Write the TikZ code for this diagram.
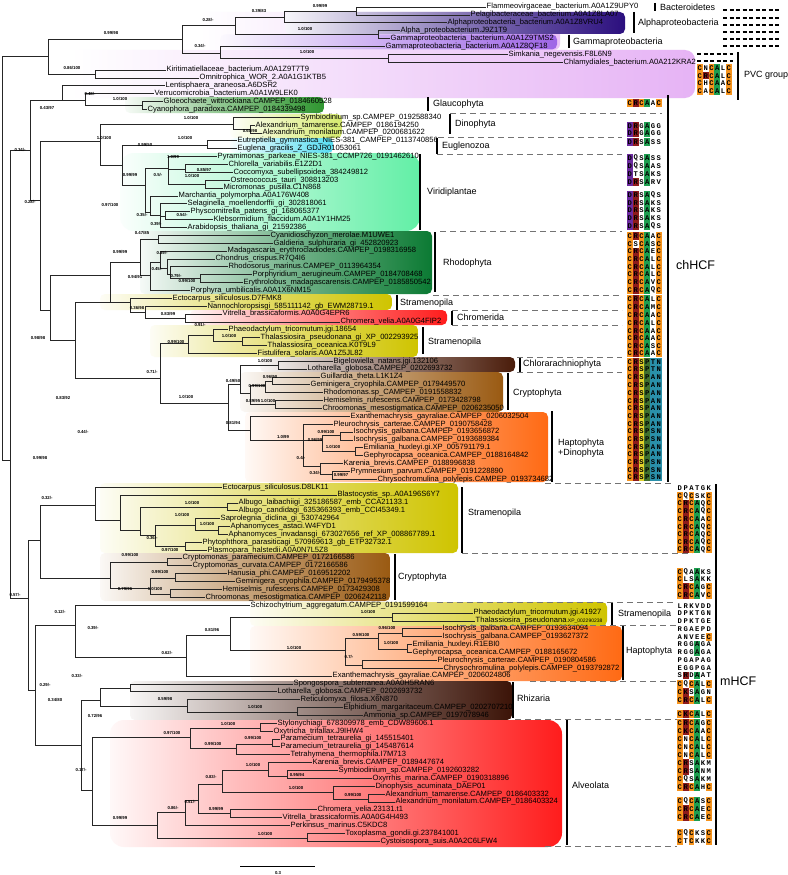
\documentclass[tikz,border=0pt]{standalone}
\usepackage{fontspec}
\setmainfont{Liberation Sans}
\setmonofont{Liberation Mono}
\definecolor{cor}{HTML}{F7941D}
\definecolor{cdr}{HTML}{8E1B1B}
\definecolor{cgr}{HTML}{1E9E50}
\definecolor{cpu}{HTML}{6B2B9E}
\definecolor{cye}{HTML}{E3D32B}
\definecolor{cdg}{HTML}{40702E}
\definecolor{cte}{HTML}{2A90AA}
\definecolor{bpvc}{HTML}{E6B3F5}
\definecolor{balp}{HTML}{2B0F7E}
\definecolor{bgam}{HTML}{9E66E6}
\definecolor{bgla}{HTML}{2F9630}
\definecolor{bdin}{HTML}{D6EA6E}
\definecolor{beug}{HTML}{57DDF2}
\definecolor{bvir}{HTML}{62EFA6}
\definecolor{brho}{HTML}{0B7A33}
\definecolor{bstr}{HTML}{CFC400}
\definecolor{bchr}{HTML}{FF1C1C}
\definecolor{bchl}{HTML}{4A1C0A}
\definecolor{bcry}{HTML}{9A5A12}
\definecolor{bhap}{HTML}{FF6A14}
\definecolor{brhi}{HTML}{3C1408}
\newcount\supc
\newcount\cellc
\tikzset{
 leaf/.style={anchor=west, inner sep=0.5pt, font=\fontsize{7.6}{8}\selectfont},
 br/.style={line width=0.6pt, black!85},
 sup/.style={inner sep=0pt, font=\fontsize{4.3}{5}\selectfont\bfseries},
 clade/.style={anchor=west, inner sep=0pt, font=\fontsize{9}{10}\selectfont},
 bar/.style={line width=1.6pt, black},
 sep/.style={dash pattern=on 6pt off 4pt, line width=0.9pt, black!55},
 tdash/.style={dash pattern=on 4pt off 2.5pt, line width=1.1pt, black},
 cellst/.style={minimum width=5.8pt, minimum height=7.7pt, inner sep=0pt, font=\fontsize{7.2}{7.2}\ttfamily\bfseries},
 box/.style={rounded corners=5pt}
}
\newcommand\lf[4]{\pgfmathsetmacro\yy{7+(#2-1)*7.87}\node[leaf] (#1) at (#3,\yy) {#4};}
\newcommand\ed[2]{\draw[br] (#1) |- (#2);}
\newcommand\supl[3]{\global\advance\supc by 1 \node[sup] (s\the\supc) at (#1,#2) {#3};}
\newcommand\cl[3]{\global\advance\cellc by 1
 \pgfmathsetmacro\cx{\sqx+2.9+5.8*#1}%
 \node[cellst,fill=#2] (c\the\cellc) at (\cx,\sqy) {#3};}
\newcommand\sq[4]{\def\sqmode{#1}\def\sqx{#2}\def\sqy{#3}\sqp#4}
\def\sqp#1#2#3#4#5#6{%
 \if#1C\def\fa{cor}\else\if#1D\def\fa{cpu}\else\def\fa{white}\fi\fi
 \if#2R\def\fb{cdr}\else\if#2K\def\fb{cdr}\else\def\fb{white}\fi\fi
 \if#3C\def\fc{cor}\else\def\fc{white}\fi
 \if#4A\def\fd{cgr}\else\def\fd{white}\fi
 \def\fe{white}%
 \if#6C\def\ff{cor}\else\def\ff{white}\fi
 \ifnum\sqmode=1 \def\fc{cye}\def\fd{cdg}\def\fe{cte}\def\ff{cte}\fi
 \ifnum\sqmode=2 \def\fa{white}\def\fb{white}\def\fc{white}\def\fd{white}\def\ff{white}\fi
 \cl{0}{\fa}{#1}\cl{1}{\fb}{#2}\cl{2}{\fc}{#3}\cl{3}{\fd}{#4}\cl{4}{\fe}{#5}\cl{5}{\ff}{#6}}
\newcommand\bx[5]{\shade[box, left color=#5!4, right color=#5, middle color=#5!55] (#1,#2) rectangle (#3,#4);}
\begin{document}
\catcode`\_=12
\begin{tikzpicture}[x=1pt,y=-1pt]
\useasboundingbox (0,0) rectangle (787,875);
\fill[white] (0,0) rectangle (787,875);
% ---------- backgrounds
\shade[rounded corners=10pt, left color=white, right color=bpvc] (70,50) rectangle (695,98);
\shade[rounded corners=6pt, left color=white, right color=bpvc!80] (200,12) rectangle (560,50);
\bx{285}{12}{625}{34}{balp}
\bx{220}{34.5}{557}{49.5}{bgam}
\bx{125}{97}{324}{113}{bgla}
\bx{230}{114}{342}{138}{bdin}
\bx{230}{138}{333}{153}{beug}
\shade[rounded corners=14pt, left color=bvir!3, right color=bvir, middle color=bvir!50] (120,153) rectangle (420,231);
\bx{140}{231}{432}{294}{brho}
\bx{100}{294}{392}{310}{bstr}
\bx{190}{310}{447}{325}{bchr}
\bx{150}{325}{418}{357}{bstr}
\bx{260}{357}{515}{372}{bchl}
\bx{240}{372}{503}{412}{bcry}
\bx{245}{412}{548}{482}{bhap}
\bx{100}{483}{458}{553}{bstr}
\bx{100}{553}{390}{601}{bcry}
\bx{250}{602}{607}{626}{bstr}
\bx{250}{626}{622}{681}{bhap}
\bx{130}{681}{512}{720}{brhi}
\shade[rounded corners=14pt, left color=bchr!3, right color=bchr, middle color=bchr!50] (110,720) rectangle (562,847);
% ---------- internal nodes
\coordinate (R) at (2,300);
\coordinate (nA) at (48,56);
\coordinate (nB) at (182,39);
\coordinate (n235) at (235,25);
\coordinate (n284) at (284,17);
\coordinate (n356) at (356,11);
\coordinate (n378) at (378,34);
\coordinate (n220) at (220,53);
\coordinate (n388) at (388,58);
\coordinate (nKO) at (95,74);
\coordinate (nE) at (10,460);
\coordinate (nC) at (30,150);
\coordinate (nLV) at (62,100);
\coordinate (n85) at (85,100);
\coordinate (nG) at (142,105);
\coordinate (nD) at (40,200);
\coordinate (nPl) at (100,141);
\coordinate (nDin) at (233,124);
\coordinate (nAlx) at (250,129);
\coordinate (nEV) at (122,165);
\coordinate (nEu) at (207,145);
\coordinate (nVi) at (145,185);
\coordinate (nV1) at (168,168);
\coordinate (nCC) at (185,169);
\coordinate (nOM) at (205,184);
\coordinate (nV2) at (150,212);
\coordinate (nV3) at (160,215);
\coordinate (nV4) at (165,216);
\coordinate (nLow) at (50,310);
\coordinate (nRhp) at (110,275);
\coordinate (nRh) at (140,262);
\coordinate (nCG) at (158,239);
\coordinate (nRh2) at (150,275);
\coordinate (nRh3) at (160,262);
\coordinate (nRh4) at (167,268);
\coordinate (nRh5) at (170,274);
\coordinate (nRh6) at (200,278);
\coordinate (nLow2) at (75,340);
\coordinate (nSt1) at (130,302);
\coordinate (nNC) at (145,312);
\coordinate (nChr) at (185,318);
\coordinate (n160) at (160,378);
\coordinate (nSt2) at (188,343);
\coordinate (nPT) at (213,335);
\coordinate (nTT) at (242,341);
\coordinate (nBig) at (228,403);
\coordinate (nCC2) at (240,384);
\coordinate (nChl) at (278,365);
\coordinate (nCr) at (250,393);
\coordinate (nCr1) at (265,385);
\coordinate (nGG) at (272,381);
\coordinate (nCr2) at (275,404);
\coordinate (nHap) at (250,430);
\coordinate (nH1) at (303,440);
\coordinate (nIE) at (322,440);
\coordinate (nIso) at (340,435);
\coordinate (nEG) at (355,451);
\coordinate (nKP) at (320,466);
\coordinate (nPC) at (332,474);
\coordinate (nM) at (28,598);
\coordinate (nM1) at (40,540);
\coordinate (nS) at (95,505);
\coordinate (nS2) at (120,520);
\coordinate (nS3) at (140,530);
\coordinate (nAlb) at (227,507);
\coordinate (nS4) at (155,535);
\coordinate (nSap) at (195,525);
\coordinate (nAph) at (218,530);
\coordinate (nPP) at (185,546);
\coordinate (nCrM) at (110,578);
\coordinate (nCp) at (167,562);
\coordinate (nCrM2) at (150,588);
\coordinate (nHG) at (175,578);
\coordinate (nHC) at (170,594);
\coordinate (nM2) at (35,690);
\coordinate (nMH) at (75,625);
\coordinate (n186) at (186,657);
\coordinate (n230) at (230,635);
\coordinate (n392) at (392,617);
\coordinate (n345) at (345,650);
\coordinate (n378b) at (378,638);
\coordinate (n402) at (402,633);
\coordinate (n407) at (407,649);
\coordinate (n362) at (362,665);
\coordinate (nRA) at (81,745);
\coordinate (nRhz) at (100,700);
\coordinate (nSL) at (130,688);
\coordinate (nR187) at (187,706);
\coordinate (nEA) at (297,712);
\coordinate (nAlv) at (92,790);
\coordinate (nCil) at (190,737);
\coordinate (n260) at (260,728);
\coordinate (n236) at (236,748);
\coordinate (n272) at (272,744);
\coordinate (nAp) at (157,825);
\coordinate (n185) at (185,812);
\coordinate (n198) at (198,800);
\coordinate (n222) at (222,784);
\coordinate (n268) at (268,770);
\coordinate (n287) at (287,776);
\coordinate (n333) at (333,792);
\coordinate (n368) at (368,799);
\coordinate (n230b) at (230,813);
\coordinate (n307) at (307,838);
% ---------- leaves
\lf{L1}{1}{486}{Flammeovirgaceae_bacterium.A0A1Z9UPY0}
\lf{L2}{2}{470}{Pelagibacteraceae_bacterium.A0A1Z8LA07}
\lf{L3}{3}{447}{Alphaproteobacteria_bacterium.A0A1Z8VRU4}
\lf{L4}{4}{400}{Alpha_proteobacterium.J9Z1T9}
\lf{L5}{5}{390}{Gammaproteobacteria_bacterium.A0A1Z9TMS2}
\lf{L6}{6}{385}{Gammaproteobacteria_bacterium.A0A1Z8QF18}
\lf{L7}{7}{508}{Simkania_negevensis.F8L6N9}
\lf{L8}{8}{563}{Chlamydiales_bacterium.A0A212KRA2}
\lf{L9}{9}{166}{Kiritimatiellaceae_bacterium.A0A1Z9T7T9}
\lf{L10}{10}{199}{Omnitrophica_WOR_2.A0A1G1KTB5}
\lf{L11}{11}{165}{Lentisphaera_araneosa.A6DSR2}
\lf{L12}{12}{154}{Verrucomicrobia_bacterium.A0A1W9LEK0}
\lf{L13}{13}{163}{Gloeochaete_wittrockiana.CAMPEP_0184660528}
\lf{L14}{14}{147}{Cyanophora_paradoxa.CAMPEP_0184339498}
\lf{L15}{15}{300}{Symbiodinium_sp.CAMPEP_0192588340}
\lf{L16}{16}{255}{Alexandrium_tamarense.CAMPEP_0186194250}
\lf{L17}{17}{262}{Alexandrium_monilatum.CAMPEP_0200681622}
\lf{L18}{18}{237}{Eutreptiella_gymnastica_NIES-381_CAMPEP_0113740856}
\lf{L19}{19}{237}{Euglena_gracilis_Z_GDJR01053061}
\lf{L20}{20}{217}{Pyramimonas_parkeae_NIES-381_CCMP726_0191462610}
\lf{L21}{21}{228}{Chlorella_variabilis.E1Z2D1}
\lf{L22}{22}{233}{Coccomyxa_subellipsoidea_384249812}
\lf{L23}{23}{230}{Ostreococcus_tauri_308813203}
\lf{L24}{24}{223}{Micromonas_pusilla.C1N868}
\lf{L25}{25}{178}{Marchantia_polymorpha.A0A176W408}
\lf{L26}{26}{187}{Selaginella_moellendorffii_gi_302818061}
\lf{L27}{27}{190}{Physcomitrella_patens_gi_168065377}
\lf{L28}{28}{213}{Klebsormidium_flaccidum.A0A1Y1HM25}
\lf{L29}{29}{187}{Arabidopsis_thaliana_gi_21592386_}
\lf{L30}{30}{270}{Cyanidioschyzon_merolae.M1UWE1}
\lf{L31}{31}{273}{Galdieria_sulphuraria_gi_452820923}
\lf{L32}{32}{227}{Madagascaria_erythrocladiodes.CAMPEP_0198316958}
\lf{L33}{33}{215}{Chondrus_crispus.R7Q4I6}
\lf{L34}{34}{228}{Rhodosorus_marinus.CAMPEP_0113964354}
\lf{L35}{35}{252}{Porphyridium_aerugineum.CAMPEP_0184708468}
\lf{L36}{36}{243}{Erythrolobus_madagascarensis.CAMPEP_0185850542}
\lf{L37}{37}{190}{Porphyra_umbilicalis.A0A1X6NM15}
\lf{L38}{38}{172}{Ectocarpus_siliculosus.D7FMK8}
\lf{L39}{39}{207}{Nannochloropsisgi_585111142_gb_EWM28719.1}
\lf{L40}{40}{222}{Vitrella_brassicaformis.A0A0G4EPR6}
\lf{L41}{41}{340}{Chromera_velia.A0A0G4FIP2}
\lf{L42}{42}{228}{Phaeodactylum_tricornutum.jgi.18654}
\lf{L43}{43}{260}{Thalassiosira_pseudonana_gi_XP_002293925}
\lf{L44}{44}{267}{Thalassiosira_oceanica.K0T9L9}
\lf{L45}{45}{257}{Fistulifera_solaris.A0A1Z5JL82}
\lf{L46}{46}{333}{Bigelowiella_natans.jgi.132106}
\lf{L47}{47}{307}{Lotharella_globosa.CAMPEP_0202693732}
\lf{L48}{48}{320}{Guillardia_theta.L1K1Z4}
\lf{L49}{49}{310}{Geminigera_cryophila.CAMPEP_0179449570}
\lf{L50}{50}{323}{Rhodomonas.sp_CAMPEP_0191558832}
\lf{L51}{51}{323}{Hemiselmis_rufescens.CAMPEP_0173428798}
\lf{L52}{52}{322}{Chroomonas_mesostigmatica.CAMPEP_0206235050}
\lf{L53}{53}{350}{Exanthemachrysis_gayraliae.CAMPEP_0206032504}
\lf{L54}{54}{333}{Pleurochrysis_carterae.CAMPEP_0190758428}
\lf{L55}{55}{353}{Isochrysis_galbana.CAMPEP_0193656872}
\lf{L56}{56}{353}{Isochrysis_galbana.CAMPEP_0193689384}
\lf{L57}{57}{363}{Emiliania_huxleyi.gi.XP_005791179.1}
\lf{L58}{58}{363}{Gephyrocapsa_oceanica.CAMPEP_0188164842}
\lf{L59}{59}{343}{Karenia_brevis.CAMPEP_0188996838}
\lf{L60}{60}{350}{Prymnesium_parvum.CAMPEP_0191228890}
\lf{L61}{61}{377}{Chrysochromulina_polylepis.CAMPEP_0193734682}
\lf{L62}{62}{222}{Ectocarpus_siliculosus.D8LK11}
\lf{L63}{63}{337}{Blastocystis_sp..A0A196S6Y7}
\lf{L64}{64}{238}{Albugo_laibachiigi_325186587_emb_CCA21133.1}
\lf{L65}{65}{238}{Albugo_candidagi_635366393_emb_CCI45349.1}
\lf{L66}{66}{220}{Saprolegnia_diclina_gi_530742964}
\lf{L67}{67}{230}{Aphanomyces_astaci.W4FYD1}
\lf{L68}{68}{228}{Aphanomyces_invadansgi_673027656_ref_XP_008867789.1}
\lf{L69}{69}{202}{Phytophthora_parasiticagi_570969613_gb_ETP32732.1}
\lf{L70}{70}{207}{Plasmopara_halstedii.A0A0N7L5Z8}
\lf{L71}{71}{182}{Cryptomonas_paramecium.CAMPEP_0172166586}
\lf{L72}{72}{192}{Cryptomonas_curvata.CAMPEP_0172166586}
\lf{L73}{73}{227}{Hanusia_phi.CAMPEP_0169512202}
\lf{L74}{74}{235}{Geminigera_cryophila.CAMPEP_0179495378}
\lf{L75}{75}{222}{Hemiselmis_rufescens.CAMPEP_0173429308}
\lf{L76}{76}{205}{Chroomonas_mesostigmatica.CAMPEP_0206242118}
\lf{L77}{77}{250}{Schizochytrium_aggregatum.CAMPEP_0191599164}
\lf{L78}{78}{473}{Phaeodactylum_tricornutum.jgi.41927}
\lf{L79}{79}{475}{Thalassiosira_pseudonana{\fontsize{5}{6}\selectfont.XP_002290238}}
\lf{L80}{80}{442}{Isochrysis_galbana.CAMPEP_0193634094}
\lf{L81}{81}{442}{Isochrysis_galbana.CAMPEP_0193627372}
\lf{L82}{82}{412}{Emiliania_huxleyi.R1EBI0}
\lf{L83}{83}{412}{Gephyrocapsa_oceanica.CAMPEP_0188165672}
\lf{L84}{84}{437}{Pleurochrysis_carterae.CAMPEP_0190804586}
\lf{L85}{85}{443}{Chrysochromulina_polylepis.CAMPEP_0193792872}
\lf{L86}{86}{332}{Exanthemachrysis_gayraliae.CAMPEP_0206024806}
\lf{L87}{87}{293}{Spongospora_subterranea.A0A0H5RAN6}
\lf{L88}{88}{277}{Lotharella_globosa.CAMPEP_0202693732}
\lf{L89}{89}{300}{Reticulomyxa_filosa.X6N870}
\lf{L90}{90}{343}{Elphidium_margaritaceum.CAMPEP_0202707210}
\lf{L91}{91}{363}{Ammonia_sp.CAMPEP_0197078946}
\lf{L92}{92}{277}{Stylonychiagi_678309978_emb_CDW89606.1}
\lf{L93}{93}{273}{Oxytricha_trifallax.J9IHW4}
\lf{L94}{94}{280}{Paramecium_tetraurelia_gi_145515401}
\lf{L95}{95}{280}{Paramecium_tetraurelia_gi_145487614}
\lf{L96}{96}{290}{Tetrahymena_thermophila.I7M713}
\lf{L97}{97}{312}{Karenia_brevis.CAMPEP_0189447674}
\lf{L98}{98}{338}{Symbiodinium_sp.CAMPEP_0192603282}
\lf{L99}{99}{372}{Oxyrrhis_marina.CAMPEP_0190318896}
\lf{L100}{100}{375}{Dinophysis_acuminata_DAEP01}
\lf{L101}{101}{385}{Alexandrium_tamarense.CAMPEP_0186403332}
\lf{L102}{102}{395}{Alexandrium_monilatum.CAMPEP_0186403324}
\lf{L103}{103}{317}{Chromera_velia.23131.t1}
\lf{L104}{104}{282}{Vitrella_brassicaformis.A0A0G4H493}
\lf{L105}{105}{290}{Perkinsus_marinus.C5KDC8}
\lf{L106}{106}{345}{Toxoplasma_gondii.gi.237841001}
\lf{L107}{107}{380}{Cystoisospora_suis.A0A2C6LFW4}
% ---------- edges
\ed{R}{nA}\ed{R}{nE}
\ed{nA}{nB}\ed{nA}{nKO}
\ed{nB}{n235}\ed{nB}{n220}
\ed{n235}{n284}\ed{n235}{n378}
\ed{n284}{n356}\ed{n284}{L3.west}
\ed{n356}{L1.west}\ed{n356}{L2.west}
\ed{n378}{L4.west}\ed{n378}{L5.west}
\ed{n220}{L6.west}\ed{n220}{n388}
\ed{n388}{L7.west}\ed{n388}{L8.west}
\ed{nKO}{L9.west}\ed{nKO}{L10.west}
\ed{nE}{nC}\ed{nE}{nM}
\ed{nC}{nLV}\ed{nC}{nD}
\ed{nLV}{L11.west}\ed{nLV}{n85}
\ed{n85}{L12.west}\ed{n85}{nG}
\ed{nG}{L13.west}\ed{nG}{L14.west}
\ed{nD}{nPl}\ed{nD}{nLow}
\ed{nPl}{nDin}\ed{nPl}{nEV}
\ed{nDin}{L15.west}\ed{nDin}{nAlx}
\ed{nAlx}{L16.west}\ed{nAlx}{L17.west}
\ed{nEV}{nEu}\ed{nEV}{nVi}
\ed{nEu}{L18.west}\ed{nEu}{L19.west}
\ed{nVi}{nV1}\ed{nVi}{nV2}
\ed{nV1}{L20.west}\ed{nV1}{nCC}\ed{nV1}{nOM}
\ed{nCC}{L21.west}\ed{nCC}{L22.west}
\ed{nOM}{L23.west}\ed{nOM}{L24.west}
\ed{nV2}{L25.west}\ed{nV2}{nV3}
\ed{nV3}{L26.west}\ed{nV3}{nV4}\ed{nV3}{L29.west}
\ed{nV4}{L27.west}\ed{nV4}{L28.west}
\ed{nLow}{nRhp}\ed{nLow}{nLow2}
\ed{nRhp}{nRh}\ed{nRhp}{nSt1}
\ed{nRh}{nCG}\ed{nRh}{nRh2}
\ed{nCG}{L30.west}\ed{nCG}{L31.west}
\ed{nRh2}{nRh3}\ed{nRh2}{L37.west}
\ed{nRh3}{L32.west}\ed{nRh3}{nRh4}
\ed{nRh4}{L33.west}\ed{nRh4}{nRh5}
\ed{nRh5}{L34.west}\ed{nRh5}{nRh6}
\ed{nRh6}{L35.west}\ed{nRh6}{L36.west}
\ed{nLow2}{nSt1}\ed{nLow2}{n160}
\ed{nSt1}{L38.west}\ed{nSt1}{nNC}
\ed{nNC}{L39.west}\ed{nNC}{nChr}
\ed{nChr}{L40.west}\ed{nChr}{L41.west}
\ed{n160}{nSt2}\ed{n160}{nBig}
\ed{nSt2}{nPT}\ed{nSt2}{L45.west}
\ed{nPT}{L42.west}\ed{nPT}{nTT}
\ed{nTT}{L43.west}\ed{nTT}{L44.west}
\ed{nBig}{nCC2}\ed{nBig}{nHap}
\ed{nCC2}{nChl}\ed{nCC2}{nCr}
\ed{nChl}{L46.west}\ed{nChl}{L47.west}
\ed{nCr}{nCr1}\ed{nCr}{nCr2}
\ed{nCr1}{nGG}\ed{nCr1}{L50.west}
\ed{nGG}{L48.west}\ed{nGG}{L49.west}
\ed{nCr2}{L51.west}\ed{nCr2}{L52.west}
\ed{nHap}{L53.west}\ed{nHap}{nH1}
\ed{nH1}{L54.west}\ed{nH1}{nIE}\ed{nH1}{nKP}
\ed{nIE}{nIso}\ed{nIE}{nEG}
\ed{nIso}{L55.west}\ed{nIso}{L56.west}
\ed{nEG}{L57.west}\ed{nEG}{L58.west}
\ed{nKP}{L59.west}\ed{nKP}{nPC}
\ed{nPC}{L60.west}\ed{nPC}{L61.west}
\ed{nM}{nM1}\ed{nM}{nM2}
\ed{nM1}{nS}\ed{nM1}{nCrM}
\ed{nS}{L62.west}\ed{nS}{nS2}
\ed{nS2}{L63.west}\ed{nS2}{nS3}
\ed{nS3}{nAlb}\ed{nS3}{nS4}
\ed{nAlb}{L64.west}\ed{nAlb}{L65.west}
\ed{nS4}{nSap}\ed{nS4}{nPP}
\ed{nSap}{L66.west}\ed{nSap}{nAph}
\ed{nAph}{L67.west}\ed{nAph}{L68.west}
\ed{nPP}{L69.west}\ed{nPP}{L70.west}
\ed{nCrM}{nCp}\ed{nCrM}{nCrM2}
\ed{nCp}{L71.west}\ed{nCp}{L72.west}
\ed{nCrM2}{nHG}\ed{nCrM2}{nHC}
\ed{nHG}{L73.west}\ed{nHG}{L74.west}
\ed{nHC}{L75.west}\ed{nHC}{L76.west}
\ed{nM2}{nMH}\ed{nM2}{nRA}
\ed{nMH}{L77.west}\ed{nMH}{n186}
\ed{n186}{n230}\ed{n186}{L86.west}
\ed{n230}{n392}\ed{n230}{n345}
\ed{n392}{L78.west}\ed{n392}{L79.west}
\ed{n345}{n378b}\ed{n345}{n362}
\ed{n378b}{n402}\ed{n378b}{n407}
\ed{n402}{L80.west}\ed{n402}{L81.west}
\ed{n407}{L82.west}\ed{n407}{L83.west}
\ed{n362}{L84.west}\ed{n362}{L85.west}
\ed{nRA}{nRhz}\ed{nRA}{nAlv}
\ed{nRhz}{nSL}\ed{nRhz}{nR187}
\ed{nSL}{L87.west}\ed{nSL}{L88.west}
\ed{nR187}{L89.west}\ed{nR187}{nEA}
\ed{nEA}{L90.west}\ed{nEA}{L91.west}
\ed{nAlv}{nCil}\ed{nAlv}{nAp}
\ed{nCil}{n260}\ed{nCil}{n236}
\ed{n260}{L92.west}\ed{n260}{L93.west}
\ed{n236}{n272}\ed{n236}{L96.west}
\ed{n272}{L94.west}\ed{n272}{L95.west}
\ed{nAp}{n185}\ed{nAp}{n307}
\ed{n185}{n198}\ed{n185}{L105.west}
\ed{n198}{n222}\ed{n198}{n230b}
\ed{n222}{n268}\ed{n222}{n333}
\ed{n268}{L97.west}\ed{n268}{n287}
\ed{n287}{L98.west}\ed{n287}{L99.west}
\ed{n333}{L100.west}\ed{n333}{n368}
\ed{n368}{L101.west}\ed{n368}{L102.west}
\ed{n230b}{L103.west}\ed{n230b}{L104.west}
\ed{n307}{L106.west}\ed{n307}{L107.west}
% ---------- support values
\supl{111}{33}{0.99/98}\supl{208}{20}{0.28/-}\supl{259}{11}{0.39/83}\supl{320}{6}{0.99/99}
\supl{305}{29}{1.0/100}\supl{200}{46}{0.34/-}\supl{307}{52}{1.0/100}\supl{72}{68}{0.86/100}
\supl{90}{94}{0.48/-}\supl{120}{99}{1.0/100}\supl{47}{108}{0.43/97}\supl{20}{150}{0.34/-}
\supl{191}{118}{1.0/100}\supl{250}{131}{0.60/98}\supl{104}{138}{1.0/100}\supl{185}{138}{1.0/100}
\supl{145}{145}{0.99/50}\supl{173}{157}{1.0/99}\supl{204}{170}{0.85/97}\supl{130}{175}{0.99/99}
\supl{158}{175}{0.5/-}\supl{192}{176}{1.0/100}\supl{30}{202}{0.28/-}\supl{110}{205}{0.97/100}
\supl{142}{215}{0.35/-}\supl{182}{215}{0.54/-}\supl{156}{224}{0.39/-}\supl{142}{233}{0.47/85}
\supl{120}{252}{0.99/99}\supl{162}{253}{0.39/-}\supl{157}{269}{0.45/-}\supl{176}{276}{0.79/-}
\supl{135}{277}{0.94/91}\supl{187}{281}{0.99/100}\supl{137}{308}{0.36/98}\supl{168}{314}{0.83/99}
\supl{38}{338}{0.98/98}\supl{176}{342}{0.99/100}\supl{200}{325}{0.91/-}\supl{229}{336}{1.0/100}
\supl{152}{372}{0.71/-}\supl{265}{361}{1.0/100}\supl{233}{381}{0.49/50}\supl{270}{377}{0.96/90}
\supl{257}{386}{0.99/100}\supl{253}{401}{0.89/95}\supl{268}{401}{1.0/100}\supl{186}{397}{1.0/100}
\supl{63}{398}{0.83/92}\supl{233}{423}{0.81/94}\supl{83}{432}{0.44/-}\supl{283}{437}{1.0/99}
\supl{326}{432}{0.99/100}\supl{315}{440}{0.96/99}\supl{333}{447}{1.0/100}\supl{301}{458}{0.4/-}
\supl{40}{458}{0.99/98}\supl{315}{473}{0.34/-}\supl{341}{475}{0.99/97}\supl{47}{498}{0.32/-}
\supl{192}{503}{1.0/100}\supl{182}{515}{1.0/100}\supl{207}{524}{1.0/100}\supl{152}{538}{0.36/-}
\supl{170}{550}{0.97/100}\supl{130}{555}{0.99/100}\supl{160}{572}{0.99/100}\supl{155}{589}{1.0/100}
\supl{125}{589}{0.79/96}\supl{15}{595}{0.57/-}\supl{368}{611.5}{1.0/100}\supl{60}{612}{0.12/-}
\supl{93}{628}{0.39/-}\supl{212}{630}{0.81/96}\supl{361}{635}{0.59/100}\supl{387}{628}{0.96/100}
\supl{391}{643}{1.0/100}\supl{294}{648}{1.0/100}\supl{167}{653}{0.62/-}\supl{349}{657}{0.7/-}
\supl{77}{676}{0.33/-}\supl{45}{685}{0.29/-}\supl{55}{700}{0.34/80}\supl{165}{699}{0.59/98}
\supl{255}{707}{1.0/100}\supl{95}{716}{0.72/96}\supl{228}{724}{1.0/100}\supl{172}{733}{0.97/100}
\supl{213}{744}{0.99/100}\supl{253}{738}{0.99/100}\supl{253}{765}{1.0/100}\supl{81}{770}{0.17/-}
\supl{211}{777}{0.83/-}\supl{297}{775}{0.95/94}\supl{296}{788}{1.0/100}\supl{353}{795}{0.99/100}
\supl{190}{802}{0.51/-}\supl{173}{808}{0.86/-}\supl{216}{809}{0.99/99}\supl{120}{818}{0.99/99}
\supl{265}{834}{1.0/100}
% ---------- scale bar
\coordinate (sb1) at (240,866);
\coordinate (sb2) at (315,866);
\draw[line width=0.6pt] (sb1) -- (sb2);
\node[sup] (sbl) at (278,873) {0.3};
% ---------- dashed separators
\foreach \yy in {10,18,25,32,39,46} {\draw[tdash] (723,\yy) -- (780,\yy);}
\foreach \yy in {54,61} {\draw[tdash] (697,\yy) -- (733,\yy);}
\draw[sep] (450,113) -- (662,113);
\draw[sep] (438,137) -- (622,137);
\draw[sep] (437,154) -- (622,154);
\draw[sep] (440,231) -- (622,231);
\draw[sep] (433,295) -- (622,295);
\draw[sep] (452,310) -- (622,310);
\draw[sep] (452,325) -- (622,325);
\draw[sep] (517,357) -- (622,357);
\draw[sep] (517,372) -- (622,372);
\draw[sep] (545,483) -- (672,483);
\draw[sep] (462,553) -- (692,553);
\draw[sep] (437,602) -- (677,602);
\draw[sep] (460,625) -- (677,625);
\draw[sep] (530,681) -- (677,681);
\draw[sep] (515,719) -- (677,719);
\draw[sep] (545,846) -- (677,846);
% ---------- clade labels and bars
\draw[bar] (655,3) -- (655,11); \node[clade] (k1) at (660,7) {Bacteroidetes};
\draw[bar] (634,12) -- (634,33); \node[clade] (k2) at (638,23) {Alphaproteobacteria};
\draw[bar] (569,35) -- (569,48); \node[clade] (k3) at (573,42) {Gammaproteobacteria};
\draw[bar] (738,52) -- (738,100); \node[clade] (k4) at (744,75) {PVC group};
\draw[bar] (428,97) -- (428,111); \node[clade] (k5) at (433,104) {Glaucophyta};
\draw[bar] (450,114) -- (450,134); \node[clade] (k6) at (455,124) {Dinophyta};
\draw[bar] (437,138) -- (437,154); \node[clade] (k7) at (442,146) {Euglenozoa};
\draw[bar] (420,154) -- (420,230); \node[clade] (k8) at (427,192) {Viridiplantae};
\draw[bar] (435,232) -- (435,292); \node[clade] (k9) at (443,263) {Rhodophyta};
\draw[bar] (397,295) -- (397,310); \node[clade] (k10) at (400,303) {Stramenopila};
\draw[bar] (452,311) -- (452,325); \node[clade] (k11) at (457,317) {Chromerida};
\draw[bar] (423,327) -- (423,354); \node[clade] (k12) at (428,342) {Stramenopila};
\draw[bar] (520,358) -- (520,372); \node[clade] (k13) at (523,364) {Chlorarachniophyta};
\draw[bar] (508,373) -- (508,410); \node[clade] (k14) at (513,393) {Cryptophyta};
\draw[bar] (552,411) -- (552,482); \node[clade, align=left] (k15) at (558,448) {Haptophyta\\+Dinophyta};
\draw[bar] (668,95) -- (668,482); \node[clade, font=\fontsize{12.5}{14}\selectfont] (k16) at (676,265) {chHCF};
\draw[bar] (462,487) -- (462,553); \node[clade] (k17) at (468,513) {Stramenopila};
\draw[bar] (395,554) -- (395,600); \node[clade] (k18) at (398,577) {Cryptophyta};
\draw[bar] (612,603) -- (612,625); \node[clade] (k19) at (618,614) {Stramenopila};
\draw[bar] (623,626) -- (623,680); \node[clade] (k20) at (626,651) {Haptophyta};
\draw[bar] (513,682) -- (513,718); \node[clade] (k21) at (517,698) {Rhizaria};
\draw[bar] (567,720) -- (567,845); \node[clade] (k22) at (572,785) {Alveolata};
\draw[bar] (716,484) -- (716,845); \node[clade, font=\fontsize{12.5}{14}\selectfont] (k23) at (720,681) {mHCF};
% ---------- sequences
\sq{0}{697}{68}{CNCALC}\sq{0}{697}{76}{CRCALC}\sq{0}{697}{83}{CHCAAC}\sq{0}{697}{91}{CACALC}
\sq{0}{627}{103}{CRCAAC}
\sq{0}{627}{126}{DRGAGG}\sq{0}{627}{133.5}{DRGAGG}\sq{0}{627}{142}{DRSASS}
\sq{0}{627}{158}{DQSASS}\sq{0}{627}{166}{DQSAAS}\sq{0}{627}{174}{DTSAKS}\sq{0}{627}{182}{DRSARV}
\sq{0}{627}{195}{DRSAQS}\sq{0}{627}{203}{DRSAKS}\sq{0}{627}{210.5}{DRSAKS}\sq{0}{627}{218}{DRSAKS}\sq{0}{627}{226}{DRSAQS}
\sq{0}{627}{236}{CRCAAC}\sq{0}{627}{244}{CSCASC}\sq{0}{627}{251.5}{CRCAEC}\sq{0}{627}{259}{CRCALC}
\sq{0}{627}{267}{CRCALC}\sq{0}{627}{274.5}{CRCALC}\sq{0}{627}{282}{CRCAVC}\sq{0}{627}{290}{CRCAQC}
\sq{0}{627}{299}{CRCALC}\sq{0}{627}{307}{CRCAMC}\sq{0}{627}{315}{CRCAAC}\sq{0}{627}{323}{CRCALC}
\sq{0}{627}{331}{CRCAAC}\sq{0}{627}{338.5}{CRCAAC}\sq{0}{627}{346}{CRCASC}\sq{0}{627}{353.5}{CRCAAC}
\sq{1}{627}{362}{CRSPTN}\sq{1}{627}{369.5}{CRSPTN}\sq{1}{627}{377}{CRSPAN}\sq{1}{627}{385}{CRSPAN}
\sq{1}{627}{393}{CRSPAN}\sq{1}{627}{401}{CRSPAN}\sq{1}{627}{408.5}{CRSPAN}\sq{1}{627}{416}{CRSPAN}
\sq{1}{627}{424}{CRSPAN}\sq{1}{627}{431.5}{CRSPSN}\sq{1}{627}{439}{CRSPSN}\sq{1}{627}{447}{CRSPAN}
\sq{1}{627}{454.5}{CRSPAN}\sq{1}{627}{462}{CRSPSN}\sq{1}{627}{470}{CRSPSN}\sq{1}{627}{477.5}{CRSPSN}
\sq{2}{677}{488}{DPATGK}\sq{0}{677}{496}{CQCSKC}\sq{0}{677}{503.5}{CRCAQC}\sq{0}{677}{511}{CRCAQC}
\sq{0}{677}{519}{CRCAAC}\sq{0}{677}{527}{CRCAQC}\sq{0}{677}{534.5}{CRCAQC}\sq{0}{677}{542}{CRCAQC}\sq{0}{677}{549.5}{CRCAQC}
\sq{0}{677}{572}{CQAAKS}\sq{0}{677}{579.5}{CLSAKK}\sq{0}{677}{587}{CRCAGC}\sq{0}{677}{595}{CRCAVC}
\sq{2}{677}{606}{LRKVDD}\sq{2}{677}{613.5}{DPKTGN}\sq{2}{677}{621}{DPKTGE}
\sq{0}{677}{629}{RGAEPD}\sq{0}{677}{637}{ANVEEC}\sq{0}{677}{644.5}{RGGAGA}\sq{0}{677}{652}{RGGAGA}
\sq{0}{677}{660}{PGAPAG}\sq{0}{677}{668}{EGGPGA}\sq{0}{677}{675.5}{SRDAAT}
\sq{0}{677}{684}{CQCALC}\sq{0}{677}{692}{CKSAGN}\sq{0}{677}{700}{CRCALC}
\sq{0}{677}{714}{CKCALC}\sq{0}{677}{723}{CRCAGC}\sq{0}{677}{731}{CKCAAC}\sq{0}{677}{739}{CNCALC}
\sq{0}{677}{747}{CNCALC}\sq{0}{677}{755}{CNCALC}\sq{0}{677}{763}{CRSAKM}\sq{0}{677}{771}{CRSANM}
\sq{0}{677}{779}{CQSAKM}\sq{0}{677}{787}{CRCAHC}
\sq{0}{677}{801}{CQCASC}\sq{0}{677}{809}{CRCAEC}\sq{0}{677}{817}{CRCAEC}
\sq{0}{677}{833}{CQCKSC}\sq{0}{677}{841}{CTCKKC}
\end{tikzpicture}
\end{document}
